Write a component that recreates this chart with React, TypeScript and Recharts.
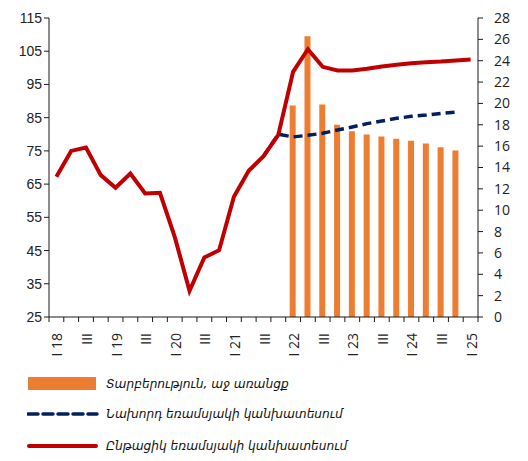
import React from "react";
import {
  ComposedChart,
  Bar,
  Line,
  XAxis,
  YAxis,
} from "recharts";

const quarters = [
  "I 18", "", "III", "",
  "I 19", "", "III", "",
  "I 20", "", "III", "",
  "I 21", "", "III", "",
  "I 22", "", "III", "",
  "I 23", "", "III", "",
  "I 24", "", "III", "",
  "I 25",
];

// current quarterly forecast (left axis)
const currentForecast = [
  67.2, 75.0, 76.0, 67.7,
  63.9, 68.2, 62.2, 62.4,
  49.1, 32.9, 42.9, 45.1,
  61.2, 69.0, 73.4, 79.8,
  98.8, 105.6, 100.3, 99.2,
  99.2, 99.7, 100.4, 100.9,
  101.4, 101.7, 101.9, 102.2,
  102.5,
];

// previous quarterly forecast (left axis)
const previousForecast = [
  null, null, null, null,
  null, null, null, null,
  null, null, null, null,
  null, null, 73.4, 80.0,
  79.2, 79.7, 80.3, 81.3,
  82.2, 83.2, 84.0, 84.8,
  85.4, 85.8, 86.3, 86.7,
  null,
];

// difference (right axis)
const difference = [
  null, null, null, null,
  null, null, null, null,
  null, null, null, null,
  null, null, null, -0.15,
  19.8, 26.3, 19.9, 18.0,
  17.4, 17.1, 16.9, 16.7,
  16.5, 16.25, 15.9, 15.6,
  null,
];

const leftTicks = [25, 35, 45, 55, 65, 75, 85, 95, 105, 115];
const rightTicks = [0, 2, 4, 6, 8, 10, 12, 14, 16, 18, 20, 22, 24, 26, 28];

const data = quarters.map((q, i) => ({
  q: String(i),
  label: q,
  current: currentForecast[i],
  previous: previousForecast[i],
  diff: difference[i],
}));

const CHART_W = 528;
const LEFT_W = 49;
const RIGHT_W = 50;
const STEP = (CHART_W - LEFT_W - RIGHT_W) / quarters.length;

const AXIS_COLOR = "#1a1a1a";
const ORANGE = "#ED7D31";
const RED = "#C00000";
const NAVY = "#002060";

function QuarterTick(props: any) {
  const { x, y, payload, index } = props;
  const label = quarters[Number(payload.value)];
  const left = x - STEP / 2;
  const isLast = index === quarters.length - 1;
  return (
    <g>
      <line x1={left} x2={left} y1={y - 8} y2={y - 3} stroke={AXIS_COLOR} />
      {isLast && (
        <line x1={left + STEP} x2={left + STEP} y1={y - 8} y2={y - 3} stroke={AXIS_COLOR} />
      )}
      {label && (
        <text
          x={0}
          y={0}
          transform={`translate(${x + 1},${y + 8}) rotate(-90)`}
          textAnchor="end"
          dy="0.36em"
          fontSize={14}
          fontFamily="'Open Sans', sans-serif"
          fill="#222"
        >
          {label}
        </text>
      )}
    </g>
  );
}

function Legend() {
  const rows = [
    { kind: "bar", text: "Տարբերություն, աջ առանցք", top: 376 },
    { kind: "dash", text: "Նախորդ եռամսյակի կանխատեսում", top: 406 },
    { kind: "line", text: "Ընթացիկ եռամսյակի կանխատեսում", top: 438 },
  ];
  return (
    <>
      {rows.map((r) => (
        <div
          key={r.text}
          style={{
            position: "absolute",
            left: 27,
            top: r.top,
            height: 16,
            display: "flex",
            alignItems: "center",
          }}
        >
          <svg width={72} height={16} style={{ display: "block" }}>
            {r.kind === "bar" && <rect x={1} y={1} width={68} height={13} fill={ORANGE} />}
            {r.kind === "dash" && (
              <line x1={1} x2={70} y1={8} y2={8} stroke={NAVY} strokeWidth={3.5}
                strokeDasharray="10 5" strokeLinecap="round" />
            )}
            {r.kind === "line" && (
              <line x1={2} x2={69} y1={8} y2={8} stroke={RED} strokeWidth={4} strokeLinecap="round" />
            )}
          </svg>
          <span
            style={{
              marginLeft: 7,
              fontFamily: "'DejaVu Sans', sans-serif",
              fontStyle: "italic",
              fontSize: 12.2,
              color: "#111",
              whiteSpace: "nowrap",
            }}
          >
            {r.text}
          </span>
        </div>
      ))}
    </>
  );
}

export default function App() {
  return (
    <div style={{ position: "relative", width: 528, height: 461, margin: -8, background: "#fff" }}>
      <ComposedChart
        width={CHART_W}
        height={370}
        data={data}
        margin={{ top: 18, right: 0, left: 0, bottom: 0 }}
        barCategoryGap={0}
      >
        <XAxis
          dataKey="q"
          xAxisId="x"
          interval={0}
          height={53}
          tickLine={false}
          axisLine={{ stroke: AXIS_COLOR }}
          tick={<QuarterTick />}
        />
        <YAxis
          yAxisId="left"
          orientation="left"
          width={LEFT_W}
          domain={[25, 115]}
          ticks={leftTicks}
          interval={0}
          allowDataOverflow
          tickSize={5}
          tickLine={{ stroke: AXIS_COLOR }}
          axisLine={{ stroke: AXIS_COLOR }}
          tick={{ fill: "#222", fontSize: 14, fontFamily: "'Liberation Sans', Arial, sans-serif" }}
        />
        <YAxis
          yAxisId="right"
          orientation="right"
          width={RIGHT_W}
          domain={[0, 28]}
          ticks={rightTicks}
          interval={0}
          allowDataOverflow
          tickSize={5}
          tickLine={{ stroke: AXIS_COLOR }}
          axisLine={{ stroke: AXIS_COLOR }}
          tick={{ fill: "#222", fontSize: 14, dx: 9, fontFamily: "'Open Sans', sans-serif" }}
        />
        <Bar
          xAxisId="x"
          yAxisId="right"
          dataKey="diff"
          fill={ORANGE}
          barSize={6}
          isAnimationActive={false}
        />
        <Line
          xAxisId="x"
          yAxisId="left"
          dataKey="previous"
          stroke={NAVY}
          strokeWidth={3.5}
          strokeDasharray="9 5"
          dot={false}
          connectNulls={false}
          isAnimationActive={false}
        />
        <Line
          xAxisId="x"
          yAxisId="left"
          dataKey="current"
          stroke={RED}
          strokeWidth={4}
          strokeLinejoin="miter"
          dot={false}
          isAnimationActive={false}
        />
      </ComposedChart>
      <Legend />
    </div>
  );
}
